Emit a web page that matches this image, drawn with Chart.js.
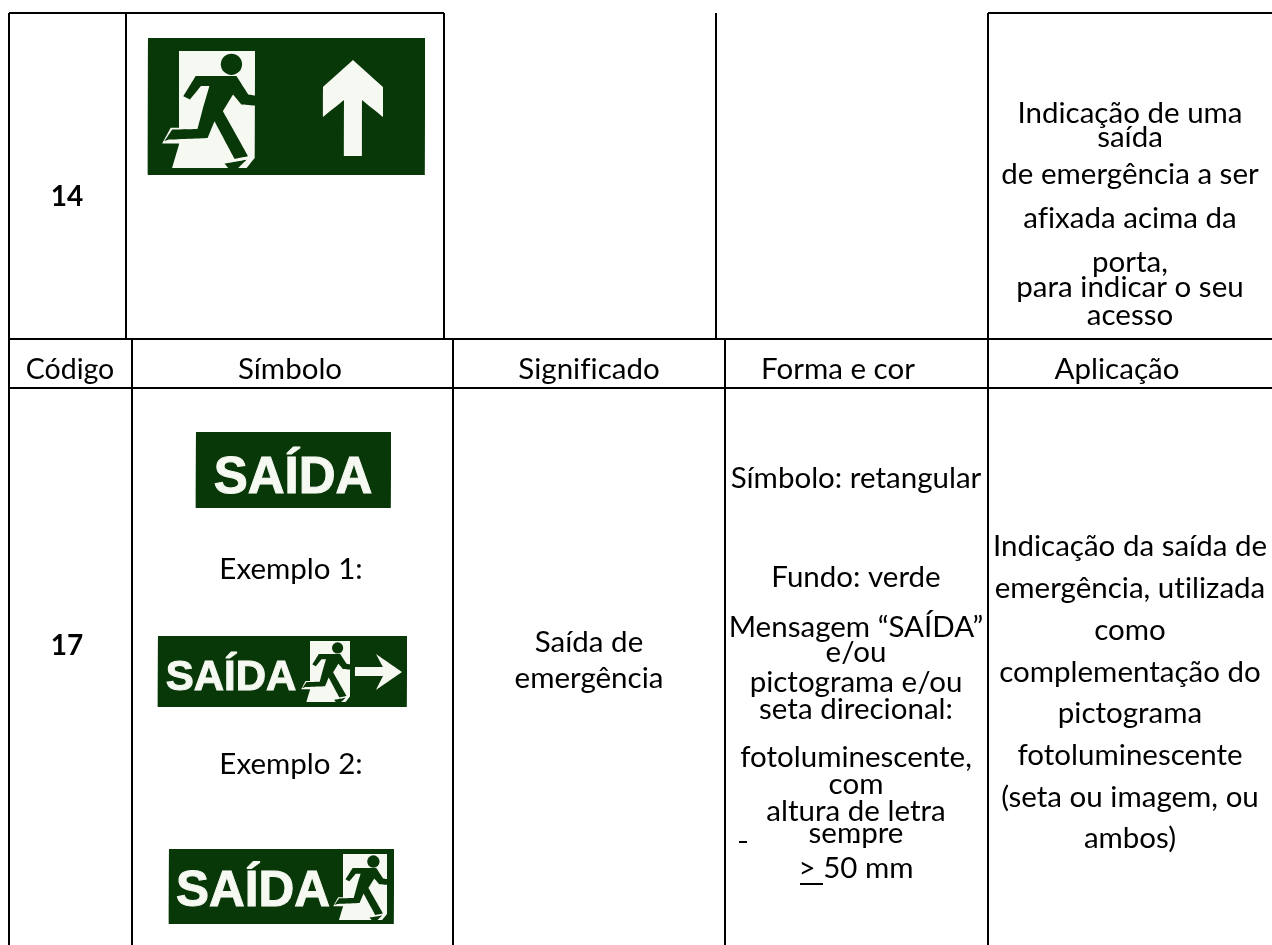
<!DOCTYPE html>
<html lang="pt">
<head>
<meta charset="utf-8">
<title>Sinalização de saída</title>
<script src="https://cdn.jsdelivr.net/npm/chart.js@4"></script>
<style>
  html, body { margin: 0; padding: 0; background: #fff; }
  canvas { display: block; }
</style>
</head>
<body>
<canvas id="myChart" width="1272" height="945"></canvas>
<script>
// table rules, [x1, y1, x2, y2]
const tableRules = [
  [9, 13, 444, 13], [988, 13, 1272, 13],
  [9, 339, 1272, 339], [9, 388, 1272, 388],
  [9, 13, 9, 945], [126, 13, 126, 339], [444, 13, 444, 339],
  [716, 13, 716, 339], [988, 13, 988, 945],
  [132, 339, 132, 945], [453, 339, 453, 945], [725, 339, 725, 945],
];
const strayMarks = [[739, 842, 747, 842], [853, 842, 859, 842], [800, 884, 823, 884]];

const headerLabels = ["Código", "Símbolo", "Significado", "Forma e cor", "Aplicação"];
const headerCenters = [70, 290, 589, 838, 1117];

const codeLabels = ["14", "17"];
const codeBaselines = [206, 655];

const topApplication = ["Indicação de uma", "saída", "de emergência a ser", "afixada acima da", "porta,", "para indicar o seu", "acesso"];
const topApplicationBaselines = [123, 147, 184, 228, 272, 297, 325];

const exampleLabels = ["Exemplo 1:", "Exemplo 2:"];
const exampleBaselines = [579, 774];

const meaningLines = ["Saída de", "emergência"];
const meaningBaselines = [652, 688];

const shapeLines = ["Símbolo: retangular", "Fundo: verde", "Mensagem “SAÍDA”", "e/ou", "pictograma e/ou", "seta direcional:", "fotoluminescente,", "com", "altura de letra", "sempre", "> 50 mm"];
const shapeBaselines = [488, 587, 637, 662, 692, 719, 767, 794, 821, 843, 878];

const useLines = ["Indicação da saída de", "emergência, utilizada", "como", "complementação do", "pictograma", "fotoluminescente", "(seta ou imagem, ou", "ambos)"];
const useBaselines = [556, 598, 640, 682, 723, 765, 807, 848];

// signs: plate, word, door box
const signPlates = [[148, 38, 425, 175], [196, 432, 391, 508], [158, 636, 407, 707], [169, 849, 394, 924]];
const signWords = [
  { center: 293, baseline: 493, size: 51 },
  { center: 231, baseline: 690, size: 42 },
  { center: 253, baseline: 906, size: 49.5 },
];
const doorBoxes = [[179, 51, 255, 168], [310, 641, 350, 702], [343, 854, 387, 920]];

// outlines of the figure, in door units (0-1)
const doorOutline = [[0, 0], [1, 0], [1, 0.91], [0.89, 1], [-0.09, 1], [0, 0.8]];
const rearFootOutline = [[-0.22, 0.79], [-0.11, 0.655], [0.02, 0.655], [0.02, 0.79]];
const runnerOutline = [
  [0.22, 0.214], [0.756, 0.214], [0.911, 0.371], [1, 0.38], [1, 0.466], [0.822, 0.457], [0.711, 0.371],
  [0.578, 0.514], [0.911, 0.9], [0.733, 0.923], [0.467, 0.6], [0.378, 0.743], [-0.133, 0.757],
  [-0.19, 0.771], [-0.089, 0.671], [0.244, 0.666], [0.311, 0.5], [0.4, 0.3], [0.289, 0.3], [0.147, 0.414], [0.058, 0.386],
];
const frontFootOutline = [[0.6, 0.963], [0.89, 0.93], [0.78, 1], [0.65, 1]];
const headCentres = [[0.69, 0.114]];
const headRadius = 0.14;

const arrowUp = [[353, 60], [383, 87], [383, 117], [362, 100], [362, 156], [344, 156], [344, 100], [323, 117], [323, 87]];
const arrowRight = [[376, 654], [402, 672], [376, 690], [383, 676], [355, 676], [355, 667], [383, 667]];

const plateGreen = "#083807";
const signWhite = "#f6f8f2";
const ink = "#000";
const bodyFont = "Lato";

const pts = (list) => list.map(([x, y]) => ({ x, y }));
const gap = { x: null, y: null };
const inDoor = (box, list) => list.map(([u, v]) => [box[0] + u * (box[2] - box[0]), box[1] + v * (box[3] - box[1])]);
const rectPts = ([a, b, c, d]) => [[a, b], [c, b], [c, d], [a, d], [a, b]];

function rules(list, width) {
  const data = [];
  list.forEach(([a, b, c, d]) => data.push({ x: a, y: b }, { x: c, y: d }, gap));
  return { data, borderColor: ink, borderWidth: width, pointRadius: 0, tension: 0.0001, fill: false };
}
function shape(list, color) {
  return {
    data: pts(list.concat([list[0]])), backgroundColor: color, borderWidth: 0,
    pointRadius: 0, tension: 0.0001, fill: "shape",
  };
}

// bottom layer first
const layers = [];
signPlates.forEach((p) => layers.push(shape(rectPts(p), plateGreen)));
doorBoxes.forEach((box) => {
  layers.push(shape(inDoor(box, doorOutline), signWhite));
  layers.push(shape(inDoor(box, rearFootOutline), signWhite));
  layers.push(shape(inDoor(box, runnerOutline), plateGreen));
  layers.push(shape(inDoor(box, frontFootOutline), plateGreen));
  layers.push({
    data: pts(inDoor(box, headCentres)), showLine: false, borderWidth: 0,
    pointRadius: headRadius * (box[2] - box[0]), pointBackgroundColor: plateGreen, pointBorderWidth: 0,
  });
});
layers.push(shape(arrowUp, signWhite));
layers.push(shape(arrowRight, signWhite));
layers.push(rules(tableRules, 2));
layers.push(rules(strayMarks, 2));

const textPlugin = {
  id: "tableText",
  afterDatasetsDraw(chart) {
    const { ctx, scales: { x, y } } = chart;
    const put = (text, cx, base, font, color) => {
      ctx.font = font;
      ctx.fillStyle = color || ink;
      ctx.fillText(text, x.getPixelForValue(cx), y.getPixelForValue(base));
    };
    const normal = "400 29.5px " + bodyFont;
    ctx.save();
    ctx.textAlign = "center";
    ctx.textBaseline = "alphabetic";
    ctx.letterSpacing = "0.01px";
    headerLabels.forEach((t, i) => put(t, headerCenters[i], 379, i === 0 ? "400 28.5px " + bodyFont : normal));
    codeLabels.forEach((t, i) => put(t, 67, codeBaselines[i], "700 28px " + bodyFont));
    topApplication.forEach((t, i) => put(t, 1130, topApplicationBaselines[i], normal));
    exampleLabels.forEach((t, i) => put(t, 291, exampleBaselines[i], normal));
    meaningLines.forEach((t, i) => put(t, 589, meaningBaselines[i], normal));
    shapeLines.forEach((t, i) => put(t, 856, shapeBaselines[i], normal));
    useLines.forEach((t, i) => put(t, 1130, useBaselines[i], normal));
    signWords.forEach((w) => {
      const font = "700 " + w.size + "px 'Liberation Sans'";
      put("SAÍDA", w.center, w.baseline, font, signWhite);
      ctx.strokeStyle = signWhite;
      ctx.lineWidth = 1;
      ctx.strokeText("SAÍDA", x.getPixelForValue(w.center), y.getPixelForValue(w.baseline));
    });
    ctx.restore();
  },
};

new Chart(document.getElementById("myChart"), {
  type: "line",
  data: {
    datasets: layers.map((d, i) => ({ ...d, order: layers.length - i })),
  },
  options: {
    responsive: false,
    animation: false,
    layout: { padding: 0, autoPadding: false },
    plugins: { legend: { display: false }, tooltip: { enabled: false } },
    scales: {
      x: { type: "linear", min: 0, max: 1272, display: false },
      y: { type: "linear", min: 0, max: 945, reverse: true, display: false },
    },
  },
  plugins: [textPlugin],
});
</script>
</body>
</html>
